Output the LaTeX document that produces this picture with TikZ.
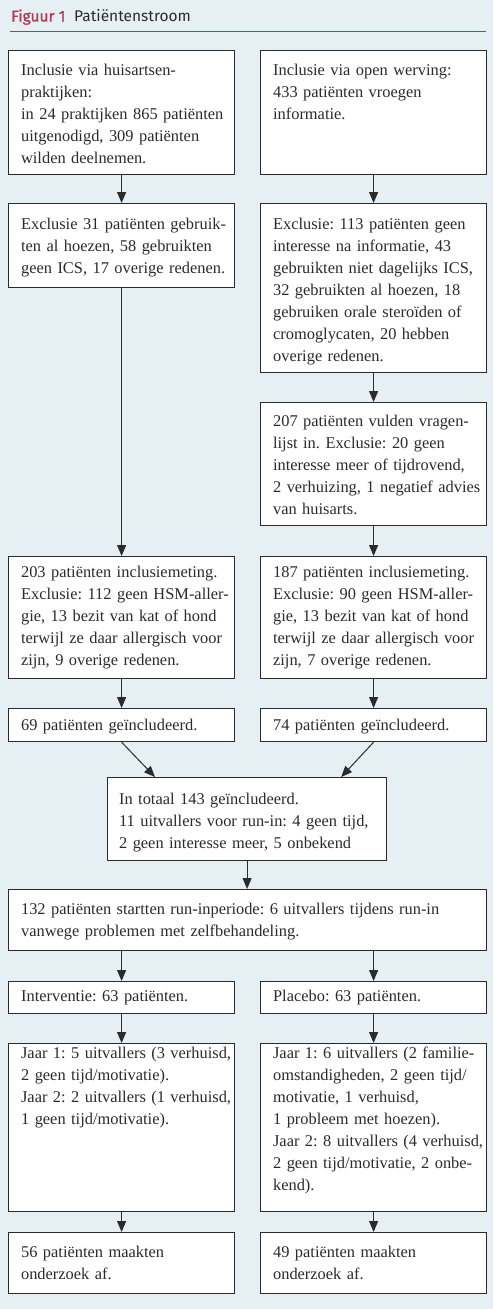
\documentclass[tikz,border=0pt]{standalone}
\usepackage{fontspec}
\setmainfont{Liberation Serif}
\newfontfamily\titlefont{Fira Sans}
\newfontfamily\titlefontb[FakeBold=1]{Fira Sans}
\usetikzlibrary{arrows.meta,calc}
\definecolor{bg}{HTML}{E6F0F4}
\definecolor{figred}{HTML}{B03A55}
\definecolor{ink}{HTML}{2B2B2B}
\newcommand{\boxlines}[1]{\begin{tabular}[t]{@{}l@{}}#1\end{tabular}}
\frenchspacing
\begin{document}
\begin{tikzpicture}[x=1pt,y=-1pt,
  box/.style={draw=ink, line width=1.2pt, fill=white, anchor=north west,
    inner xsep=12.5pt, inner ysep=0pt, align=left,
    font=\frenchspacing\fontsize{16.4}{22}\selectfont, text=ink},
  colw/.style={text width=201pt},
  midw/.style={text width=256pt},
  fullw/.style={text width=453pt},
  hd/.style 2 args={text height=#1pt, text depth=#2pt},
  arr/.style={draw=ink, line width=1pt, -{Triangle[width=9pt,length=11pt]}},
  ttl/.style={anchor=base west, inner sep=0pt},
]
\useasboundingbox (0,0) rectangle (493,1309);
\fill[bg] (0,0) rectangle (493,1309);

% title
\node[ttl, text=figred, font=\titlefontb\fontsize{15.5}{18}\selectfont] (fig) at (11,21.5) {Figuur 1};
\node[ttl, text=ink, font=\titlefont\fontsize{15.5}{18}\selectfont] (title) at (74,21.5) {Patiëntenstroom};
\draw[figred, line width=0.9pt] (10,31.5) -- (486,31.5);

% row 1
\node[box, colw, hd={24.5}{99.5}] (b1l) at (8,50) {\boxlines{Inclusie via huisartsen-\\praktijken:\\in 24 praktijken 865 patiënten\\uitgenodigd, 309 patiënten\\wilden deelnemen.}};
\node[box, colw, hd={24.5}{99.5}] (b1r) at (260,50) {\boxlines{Inclusie via open werving:\\433 patiënten vroegen\\informatie.}};

% row 2
\node[box, colw, hd={26}{58}] (b2l) at (8,203) {\boxlines{Exclusie 31 patiënten gebruik-\\ten al hoezen, 58 gebruikten\\geen ICS, 17 overige redenen.}};
\node[box, colw, hd={26}{143}] (b2r) at (260,203) {\boxlines{Exclusie: 113 patiënten geen\\interesse na informatie, 43\\gebruikten niet dagelijks ICS,\\32 gebruikten al hoezen, 18\\gebruiken orale steroïden of\\cromoglycaten, 20 hebben\\overige redenen.}};

% row 3
\node[box, colw, hd={24}{99}] (b3r) at (260,402) {\boxlines{207 patiënten vulden vragen-\\lijst in. Exclusie: 20 geen\\interesse meer of tijdrovend,\\2 verhuizing, 1 negatief advies\\van huisarts.}};

% row 4
\node[box, colw, hd={21}{101}] (b4l) at (8,556) {\boxlines{203 patiënten inclusiemeting.\\Exclusie: 112 geen HSM-aller-\\gie, 13 bezit van kat of hond\\terwijl ze daar allergisch voor\\zijn, 9 overige redenen.}};
\node[box, colw, hd={21}{101}] (b4r) at (260,556) {\boxlines{187 patiënten inclusiemeting.\\Exclusie: 90 geen HSM-aller-\\gie, 13 bezit van kat of hond\\terwijl ze daar allergisch voor\\zijn, 7 overige redenen.}};

% row 5
\node[box, colw, hd={22}{11}] (b5l) at (8,708) {\boxlines{69 patiënten geïncludeerd.}};
\node[box, colw, hd={22}{11}] (b5r) at (260,708) {\boxlines{74 patiënten geïncludeerd.}};

% row 6
\node[box, midw, inner xsep=11.5pt, hd={26.5}{56.5}] (b6) at (107,777) {\boxlines{In totaal 143 geïncludeerd.\\11 uitvallers voor run-in: 4 geen tijd,\\2 geen interesse meer, 5 onbekend}};

% row 7
\node[box, fullw, hd={25}{36}] (b7) at (8,889) {\boxlines{132 patiënten startten run-inperiode: 6 uitvallers tijdens run-in\\vanwege problemen met zelfbehandeling.}};

% row 8
\node[box, colw, hd={19.5}{12.5}] (b8l) at (8,981) {\boxlines{Interventie: 63 patiënten.}};
\node[box, colw, hd={19.5}{12.5}] (b8r) at (260,981) {\boxlines{Placebo: 63 patiënten.}};

% row 9
\node[box, colw, hd={15}{153}] (b9l) at (8,1043) {\boxlines{Jaar 1: 5 uitvallers (3 verhuisd,\\2 geen tijd/motivatie).\\Jaar 2: 2 uitvallers (1 verhuisd,\\1 geen tijd/motivatie).}};
\node[box, colw, hd={15}{153}] (b9r) at (260,1043) {\boxlines{Jaar 1: 6 uitvallers (2 familie-\\omstandigheden, 2 geen tijd/\\motivatie, 1 verhuisd,\\1 probleem met hoezen).\\Jaar 2: 8 uitvallers (4 verhuisd,\\2 geen tijd/motivatie, 2 onbe-\\kend).}};

% row 10
\node[box, colw, hd={25}{36}] (b10l) at (8,1232) {\boxlines{56 patiënten maakten\\onderzoek af.}};
\node[box, colw, hd={25}{36}] (b10r) at (260,1232) {\boxlines{49 patiënten maakten\\onderzoek af.}};

% connectors
\draw[arr] (b1l.south) -- (b2l.north);
\draw[arr] (b1r.south) -- (b2r.north);
\draw[arr] (b2r.south) -- (b3r.north);
\draw[arr] (b2l.south) -- (b4l.north);
\draw[arr] (b3r.south) -- (b4r.north);
\draw[arr] (b4l.south) -- (b5l.north);
\draw[arr] (b4r.south) -- (b5r.north);
\coordinate (b6in1) at ([xshift=48pt]b6.north west);
\coordinate (b6in2) at ([xshift=-46pt]b6.north east);
\draw[arr] (b5l.south) -- (b6in1);
\draw[arr] (b5r.south) -- (b6in2);
\draw[arr] (b6.south) -- (b7.north -| b6.south);
\draw[arr] (b7.south -| b8l.north) -- (b8l.north);
\draw[arr] (b7.south -| b8r.north) -- (b8r.north);
\draw[arr] (b8l.south) -- (b9l.north);
\draw[arr] (b8r.south) -- (b9r.north);
\draw[arr] (b9l.south) -- (b10l.north);
\draw[arr] (b9r.south) -- (b10r.north);
\end{tikzpicture}
\end{document}
